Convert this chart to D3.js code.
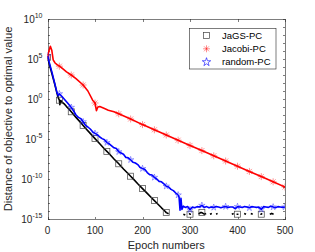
<html>
<script src="https://d3js.org/d3.v7.min.js"></script>
<style>
    body { margin: 0; background: #fff; }
    text { font-family: "Liberation Sans", Arial, sans-serif; fill: #262626; }
    .axis path, .axis line { fill: none; stroke: #262626; stroke-width: 0.6; shape-rendering: crispEdges; }
</style>
<body>
<svg id="chart" width="315" height="252"></svg>
<script>
// values are log10 of the distance to the optimal value
var blackEpoch = [0, 5, 10, 15, 20, 23, 25, 26, 28, 30, 35, 40, 45, 50, 60, 70, 75, 80, 90, 100, 110, 120, 125, 130, 140, 150,
    160, 170, 175, 180, 190, 200, 210, 220, 225, 230, 240, 247, 250, 255, 258,
    286, 290, 292, 298, 300, 302, 304, 318, 322, 325, 330, 334, 336, 342, 346, 348, 355, 358, 360,
    388, 392, 394, 398, 400, 402, 404, 414, 418, 420, 428, 432, 434, 448, 450, 452, 454, 468, 472, 476, 478];
var blackLog = [5.2, 4.1, 3.0, 1.9, 0.7, 0.1, -0.15, -0.7, -0.2, -0.35, -0.6, -0.95, -1.25, -1.6, -2.3, -2.95, -3.3, -3.65, -4.3, -4.95, -5.6, -6.25, -6.55, -6.85, -7.5, -8.1,
    -8.75, -9.35, -9.65, -9.95, -10.6, -11.2, -11.8, -12.4, -12.7, -13.0, -13.6, -14.0, -14.2, -14.35, null,
    -14.4, -14.5, null, -14.3, -14.4, -14.4, null, -14.4, -14.2, -14.2, -14.4, -14.3, null, -14.4, -14.3, null, -14.4, -14.3, null,
    -14.4, -14.3, null, -14.4, -14.4, -14.4, null, -14.3, -14.4, null, -14.3, -14.4, null, -14.4, -14.4, -14.3, null, -14.4, -14.3, -14.4, null];

var redEpoch = [0, 3, 6, 9, 12, 16, 20, 25, 30, 40, 50, 60, 75, 85, 95, 100, 103, 106, 110, 120, 128, 140, 150,
    175, 200, 225, 250, 275, 300, 325, 350, 375, 400, 425, 450, 475, 500];
var redLog = [5.25, 6.0, 6.6, 6.1, 4.9, 4.5, 4.3, 4.1, 3.9, 3.4, 3.0, 2.55, 1.75, 1.0, -0.15, -0.5, -1.45, -1.0, -0.95, -1.2, -1.4, -1.6, -1.85,
    -2.5, -3.2, -3.85, -4.5, -5.15, -5.8, -6.45, -7.1, -7.75, -8.4, -9.05, -9.7, -10.35, -11.0];

var blueEpoch = [0, 5, 10, 15, 20, 23, 25, 30, 35, 40, 45, 50, 55, 60, 65, 70, 75, 80, 85, 90, 95, 100, 105, 110, 115, 120,
    125, 130, 135, 140, 145, 150, 155, 160, 165, 170, 175, 180, 185, 190, 195, 200, 205, 210, 215, 220, 225, 230, 235, 240,
    245, 250, 255, 260, 265, 270, 275, 277, 279, 281, 283, 286, 290, 295, 300, 305, 310, 315, 320, 325, 330, 335, 340, 345,
    350, 355, 360, 365, 370, 375, 380, 385, 390, 395, 400, 405, 410, 415, 420, 425, 430, 435, 440, 445, 450, 455, 460, 465,
    470, 475, 480, 485, 490, 495, 500];
var blueLog = [5.4, 4.3, 3.2, 2.0, 0.8, 0.45, 0.65, 0.35, 0.0, -0.35, -0.7, -1.05, -1.5, -2.0, -2.3, -2.45, -2.85, -3.3, -3.5, -3.75, -4.1, -4.3, -4.45, -4.75, -4.95, -5.1,
    -5.45, -5.6, -5.85, -6.1, -6.2, -6.6, -6.75, -6.9, -7.3, -7.35, -7.6, -7.9, -8.0, -8.2, -8.55, -8.7, -8.8, -9.2, -9.45, -9.5, -9.8, -10.0, -10.3, -10.35,
    -10.6, -10.9, -11.0, -11.3, -11.45, -11.75, -12.0, -12.3, -13.9, -12.4, -13.8, -13.4, -13.55, -13.45, -13.85, -13.5, -13.6, -13.45, -13.5, -13.3, -13.55, -13.45, -13.6, -13.5,
    -13.55, -13.45, -13.5, -13.6, -13.5, -13.45, -13.55, -13.5, -13.5, -13.7, -13.45, -13.5, -13.55, -13.45, -13.5, -13.6, -13.45, -13.5, -13.55, -13.5, -13.8, -13.45, -13.5, -13.55,
    -13.4, -13.5, -13.6, -13.45, -13.5, -13.55, -13.5];

var seriesNames = ["JaGS-PC", "Jacobi-PC", "random-PC"];
var xTicks = [0, 100, 200, 300, 400, 500];
var yLabelExps = [-15, -10, -5, 0, 5, 10];

var pLeft = 47.5, pRight = 285, pTop = 19, pBottom = 219;
var svg = d3.select("#chart");

var x = d3.scaleLinear().domain([0, 500]).range([pLeft, pRight]);
var y = d3.scaleLog().domain([1e-15, 1e10]).range([pBottom, pTop]);
var decades = d3.range(-15, 11).map(function(e) { return Math.pow(10, e); });

function pack(ep, lg) {
    return ep.map(function(e, i) { return {e: e, v: lg[i] == null ? null : Math.pow(10, lg[i])}; });
}
var series = [
    {name: seriesNames[0], color: "#000", mark: "square", data: pack(blackEpoch, blackLog)},
    {name: seriesNames[1], color: "#ff0000", mark: "asterisk", data: pack(redEpoch, redLog)},
    {name: seriesNames[2], color: "#0000ff", mark: "star", data: pack(blueEpoch, blueLog)}
];

// axes box (ticks point inward)
svg.append("g").attr("class", "axis").attr("transform", "translate(0," + pBottom + ")")
    .call(d3.axisBottom(x).tickValues(xTicks).tickSize(-2.5).tickSizeOuter(0).tickFormat(""));
svg.append("g").attr("class", "axis").attr("transform", "translate(0," + pTop + ")")
    .call(d3.axisTop(x).tickValues(xTicks).tickSize(-2.5).tickSizeOuter(0).tickFormat(""));
svg.append("g").attr("class", "axis").attr("transform", "translate(" + pLeft + ",0)")
    .call(d3.axisLeft(y).tickValues(decades).tickSize(-2.5).tickSizeOuter(0).tickFormat(""));
svg.append("g").attr("class", "axis").attr("transform", "translate(" + pRight + ",0)")
    .call(d3.axisRight(y).tickValues(decades).tickSize(-2.5).tickSizeOuter(0).tickFormat(""));

svg.selectAll(".xlab").data(xTicks).enter().append("text")
    .attr("x", function(d) { return x(d); }).attr("y", 234)
    .attr("text-anchor", "middle").style("font-size", "10px").text(function(d) { return d; });

var yl = svg.selectAll(".ylab").data(yLabelExps).enter().append("text")
    .attr("x", 42.5).attr("y", function(d) { return y(Math.pow(10, d)) + 3.5; })
    .attr("text-anchor", "end").style("font-size", "10px");
yl.append("tspan").text("10");
yl.append("tspan").attr("dy", -5).style("font-size", "7px").text(function(d) { return d; });

svg.append("text").attr("x", (pLeft + pRight) / 2).attr("y", 249).attr("text-anchor", "middle")
    .style("font-size", "11px").text("Epoch numbers");
svg.append("text").attr("transform", "translate(12," + ((pTop + pBottom) / 2) + ") rotate(-90)")
    .attr("text-anchor", "middle").style("font-size", "11.2px").text("Distance of objective to optimal value");

// curves
svg.append("clipPath").attr("id", "clip").append("rect")
    .attr("x", pLeft).attr("y", pTop).attr("width", pRight - pLeft).attr("height", pBottom - pTop);
var line = d3.line().defined(function(d) { return d.v != null; })
    .x(function(d) { return x(d.e); }).y(function(d) { return y(d.v); });

function marker(g, type, color, big) {
    if (type === "square") {
        g.append("rect").attr("x", -3).attr("y", -3).attr("width", 6).attr("height", 6)
            .attr("fill", "none").attr("stroke", "#444").attr("stroke-width", 0.7);
    } else if (type === "asterisk") {
        g.append("path").attr("d", "M-3.5,0H3.5M0,-3.5V3.5M-2.5,-2.5L2.5,2.5M-2.5,2.5L2.5,-2.5")
            .attr("stroke", color).attr("stroke-opacity", 0.55).attr("stroke-width", 0.8);
    } else {
        g.append("path").attr("d", d3.symbol().type(d3.symbolStar).size(big ? 22 : 13)())
            .attr("fill", "none").attr("stroke", color).attr("stroke-opacity", big ? 1 : 0.6)
            .attr("stroke-width", 0.6);
    }
}

var plot = svg.append("g").attr("clip-path", "url(#clip)");
series.forEach(function(s) {
    plot.append("path").datum(s.data).attr("fill", "none").attr("stroke", s.color)
        .attr("stroke-width", 1.6).attr("stroke-linejoin", "round").attr("d", line);
    plot.selectAll(null).data(s.data.filter(function(d) { return d.v != null && d.e % 25 === 0; }))
        .enter().append("g")
        .attr("transform", function(d) { return "translate(" + x(d.e) + "," + y(d.v) + ")"; })
        .each(function() { marker(d3.select(this), s.mark, s.color, false); });
});

// legend
var lg = svg.append("g");
lg.append("rect").attr("x", 189.5).attr("y", 28.5).attr("width", 86.5).attr("height", 40.5)
    .attr("fill", "#fff").attr("stroke", "#262626").attr("stroke-width", 0.6);
series.forEach(function(s, i) {
    var yy = 35.5 + i * 13.3;
    var g = lg.append("g").attr("transform", "translate(206.5," + yy + ")");
    marker(g, s.mark, s.color, true);
    lg.append("text").attr("x", 222).attr("y", yy + 3.3).style("font-size", "9.5px").style("fill", "#000").text(s.name);
});
</script>
</body>
</html>
